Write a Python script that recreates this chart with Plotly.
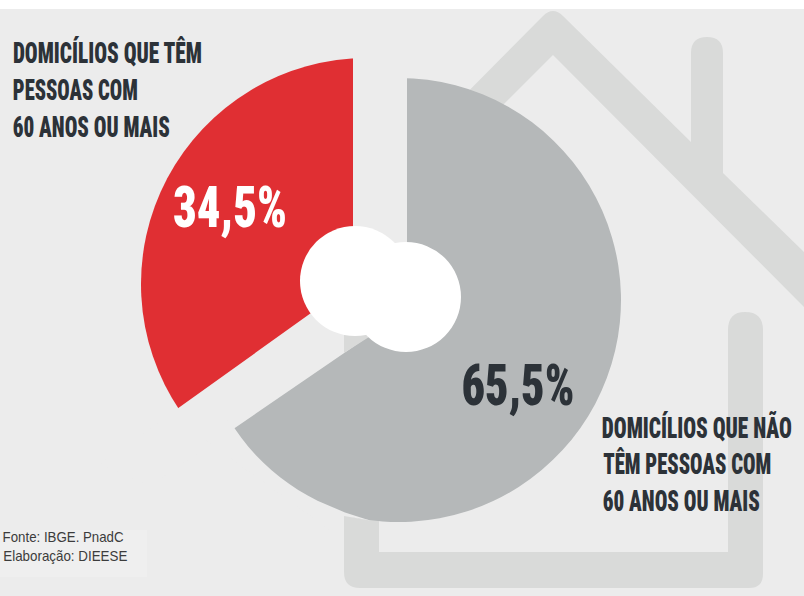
import json
import math
import plotly.graph_objects as go

W, H = 804, 596

categories = ["Domicílios que não têm pessoas com 60 anos ou mais",
              "Domicílios que têm pessoas com 60 anos ou mais"]
shares = [65.5, 34.5]
share_labels = ["65,5%", "34,5%"]
label_red = ["DOMICÍLIOS QUE TÊM", "PESSOAS COM", "60 ANOS OU MAIS"]
label_gray = ["DOMICÍLIOS QUE NÃO", "TÊM PESSOAS COM", "60 ANOS OU MAIS"]
source_lines = ["Fonte: IBGE. PnadC", "Elaboração: DIEESE"]

RED, GRAY = "#e02f33", "#b5b8b9"
BG, HOUSE = "#ececec", "#d9dad9"
INK = "#2c3238"
CONDENSED = "Roboto Condensed, Open Sans Condensed, sans-serif"
NARROW_TEXT = "Liberation Sans, Arial, sans-serif"


def px(x):
    return round(x / W, 5)


def py(y):
    return round(1 - y / H, 5)


def path(cmds):
    out = []
    for c in cmds:
        if c == "Z":
            out.append("Z")
        elif len(c) == 3:
            out.append(f"{c[0]}{px(c[1])},{py(c[2])}")
        else:
            out.append(f"{c[0]}{px(c[1])},{py(c[2])} {px(c[3])},{py(c[4])}")
    return " ".join(out)


def poly(points, color, layer="below"):
    cmds = [("M", *points[0])] + [("L", *p) for p in points[1:]] + ["Z"]
    return dict(type="path", xref="paper", yref="paper", path=path(cmds),
                fillcolor=color, line_width=0, layer=layer)


def rect(x0, y0, x1, y1, color, layer="below"):
    return dict(type="rect", xref="paper", yref="paper", x0=px(x0), x1=px(x1),
                y0=py(y1), y1=py(y0), fillcolor=color, line_width=0, layer=layer)


def circle(cx, cy, r, color):
    return dict(type="circle", xref="paper", yref="paper", x0=px(cx - r), x1=px(cx + r),
                y0=py(cy + r), y1=py(cy - r), fillcolor=color, line_width=0, layer="above")


def pie(cx, cy, r, colors, name):
    return go.Pie(labels=categories, values=shares, sort=False, direction="clockwise",
                  rotation=0, textinfo="none", hoverinfo="label+percent", showlegend=False,
                  marker=dict(colors=colors, line_width=0), name=name,
                  domain=dict(x=[px(cx - r), px(cx + r)], y=[py(cy + r), py(cy - r)]))


# The printed gray disc is flatter at lower left: trim it to that arc.
arc = [(410 + 211 * math.cos(math.radians(a)), 311 + 211 * math.sin(math.radians(a)))
       for a in range(116, 152, 3)]
trim = [(370, 520.5), (345, 512.5)] + arc + [(205, 440), (330, 530), (344, 516)]

shapes = [
    rect(0, 9, W, H, BG),
    rect(0, 530, 147, 577, "#efefef"),
    # roof
    dict(type="path", xref="paper", yref="paper", layer="below", fillcolor=HOUSE, line_width=0,
         path=path([("M", 430, 130), ("L", 543, 16), ("Q", 553, 6, 563, 16), ("L", 691, 142),
                    ("L", 691, 53), ("Q", 691, 37, 707, 37), ("Q", 723, 37, 723, 53), ("L", 723, 173),
                    ("L", 804, 252), ("L", 804, 307), ("L", 553, 55), ("L", 440, 168), "Z"])),
    # walls and floor
    dict(type="path", xref="paper", yref="paper", layer="below", fillcolor=HOUSE, line_width=0,
         path=path([("M", 344, 320), ("L", 379, 320), ("L", 379, 552), ("L", 728, 552), ("L", 728, 330),
                    ("Q", 728, 312, 745, 312), ("Q", 763, 312, 763, 330), ("L", 763, 574),
                    ("Q", 763, 588, 749, 588), ("L", 360, 588), ("Q", 344, 588, 344, 572), "Z"])),
    # gap between the two wedges
    poly([(353, 30), (407, 30), (407, 310), (150, 486), (100, 464), (353, 283)], BG, "above"),
    poly(trim, BG, "above"),
    poly([(344, 320), (380, 320), (380, 330), (344, 353)], HOUSE, "above"),
    circle(355, 281, 55, "#ffffff"),
    circle(406, 297, 55, "#ffffff"),
]

annotations = []
text_fit = []


def note(left, width, y, text, size, color, family=CONDENSED, weight=900, stretch_y=1):
    text_fit.append([width, stretch_y])
    annotations.append(dict(xref="paper", yref="paper", x=px(left + width / 2), y=py(y),
                            xanchor="center", yanchor="middle", text=text, showarrow=False,
                            font=dict(size=size, color=color, family=family, weight=weight)))


LABEL_SIZE, LABEL_STRETCH = 21.5, 1.39
for i, (line, left, width) in enumerate(zip(label_red, [13, 13, 13], [189, 125, 157])):
    note(left, width, 52 + i * 37, line, LABEL_SIZE, INK, stretch_y=LABEL_STRETCH)
for i, (line, left, width) in enumerate(zip(label_gray, [602, 603, 603], [190, 168, 157])):
    note(left, width, 427 + i * 37, line, LABEL_SIZE, INK, stretch_y=LABEL_STRETCH)
note(173, 114, 207, share_labels[1], 58, "#ffffff")
note(461, 113, 385, share_labels[0], 58, INK)
for i, (line, width) in enumerate(zip(source_lines, [121, 124])):
    note(3, width, 536.5 + i * 19, line, 14.5, "#3c3c3c", NARROW_TEXT, 400)

fig = go.Figure([
    pie(399, 300, 222, [GRAY, "rgba(0,0,0,0)"], "sem idosos"),
    pie(367, 284, 226, ["rgba(0,0,0,0)", RED], "com idosos"),
])
fig.update_layout(width=W, height=H, margin=dict(l=0, r=0, t=0, b=0), paper_bgcolor="#ffffff",
                  shapes=shapes, annotations=annotations)

fit = """
document.body.style.margin = '0';
var fits = %s;
document.querySelectorAll('.annotation-text').forEach(function (t, i) {
  t.setAttribute('textLength', String(fits[i][0]));
  t.setAttribute('lengthAdjust', 'spacingAndGlyphs');
  if (fits[i][1] !== 1) {
    t.style.transformBox = 'fill-box';
    t.style.transformOrigin = 'center';
    t.style.transform = 'scaleY(' + fits[i][1] + ')';
  }
});
""" % json.dumps(text_fit)
fig.write_html("out.html", post_script=fit, config={"displayModeBar": False})
